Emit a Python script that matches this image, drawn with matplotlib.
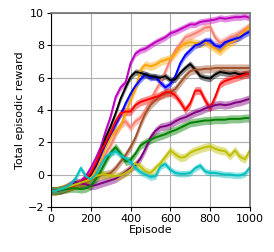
import numpy as np
import matplotlib
matplotlib.use("Agg")
import matplotlib.pyplot as plt

# Episode grid (every 25 episodes)
episodes = np.arange(0, 1001, 25)

# Mean total episodic reward per run
magenta = [-1.0, -1.0, -0.95, -0.85, -0.7, -0.55, -0.4, -0.1, 0.4, 1.0, 1.7, 2.7, 3.6, 4.8, 5.4,
           5.7, 6.9, 7.5, 7.7, 7.8, 8.0, 8.2, 8.35, 8.5, 8.75, 8.85, 9.0, 9.15, 9.3, 9.3, 9.45,
           9.5, 9.55, 9.6, 9.7, 9.65, 9.7, 9.75, 9.75, 9.8, 9.7]
salmon = [-1.0, -1.0, -0.95, -0.8, -0.7, -0.65, -0.55, -0.4, -0.3, 0.1, 0.6, 1.3, 1.8, 2.5, 3.1,
          3.3, 2.9, 3.3, 3.5, 4.0, 4.6, 5.2, 5.7, 6.4, 7.1, 7.7, 8.1, 8.5, 8.6, 8.75, 8.9,
          9.1, 9.15, 8.5, 8.15, 8.3, 8.5, 8.6, 8.8, 9.0, 9.2]
orange = [-1.0, -1.0, -0.9, -0.8, -0.65, -0.6, -0.5, -0.4, -0.2, 0.3, 0.9, 1.7, 2.3, 2.7, 3.0,
          3.8, 4.6, 5.3, 6.5, 6.8, 6.7, 6.8, 7.0, 7.1, 7.2, 7.5, 7.9, 8.1, 8.2, 8.15, 8.1,
          8.2, 8.0, 7.8, 7.6, 7.9, 8.15, 8.3, 8.6, 8.9, 9.2]
blue = [-1.0, -1.0, -0.95, -0.85, -0.7, -0.6, -0.5, -0.3, 0.0, 0.5, 1.2, 1.9, 2.5, 3.1, 3.7,
        4.4, 5.0, 5.5, 5.9, 6.2, 6.0, 6.05, 5.7, 5.4, 5.6, 6.1, 6.9, 7.4, 7.7, 8.0, 8.1,
        8.3, 8.3, 8.0, 7.9, 8.2, 8.3, 8.4, 8.5, 8.7, 8.85]
black = [-1.0, -1.0, -0.95, -0.85, -0.75, -0.6, -0.5, -0.3, 0.0, 0.6, 1.4, 2.3, 3.0, 3.8, 4.7,
         5.4, 6.05, 6.35, 6.3, 6.2, 6.1, 6.05, 6.0, 6.1, 5.85, 5.9, 6.3, 6.6, 6.85, 6.5, 6.1,
         6.0, 5.95, 6.2, 6.35, 6.3, 6.25, 6.3, 6.2, 6.25, 6.25]
brown = [-1.0, -1.0, -0.95, -0.85, -0.75, -0.65, -0.55, -0.45, -0.35, -0.2, -0.05, 0.0, 0.1, 0.4, 0.8,
         1.2, 1.7, 2.3, 3.1, 3.8, 4.3, 4.6, 4.9, 5.0, 5.1, 5.3, 5.7, 6.1, 6.4, 6.5, 6.5,
         6.55, 6.55, 6.6, 6.6, 6.6, 6.6, 6.6, 6.6, 6.6, 6.6]
red = [-1.0, -1.0, -0.95, -0.85, -0.75, -0.6, -0.5, -0.3, 0.1, 0.7, 1.4, 2.0, 2.6, 3.3, 3.8,
       3.9, 3.9, 4.3, 4.5, 4.6, 4.7, 4.8, 4.9, 5.1, 5.1, 4.9, 4.5, 4.0, 4.4, 5.2, 5.2,
       4.6, 4.1, 4.8, 5.6, 5.8, 5.9, 6.0, 6.1, 6.2, 6.25]
purple = [-1.0, -1.0, -0.95, -0.8, -0.6, -0.45, -0.55, -0.6, -0.7, -0.65, -0.55, -0.45, -0.35, -0.25, -0.05,
          0.15, 0.4, 0.6, 1.0, 1.6, 2.3, 2.7, 2.95, 3.0, 3.1, 3.3, 3.45, 3.55, 3.7, 3.85, 3.95,
          4.1, 4.2, 4.3, 4.35, 4.3, 4.35, 4.45, 4.5, 4.6, 4.7]
green = [-1.0, -1.0, -0.95, -0.9, -0.85, -0.85, -0.9, -0.85, -0.7, -0.3, 0.2, 0.8, 1.35, 1.7, 1.3,
         0.8, 0.9, 1.3, 1.8, 2.0, 2.15, 2.3, 2.4, 2.5, 2.65, 2.75, 2.9, 3.05, 3.2, 3.25, 3.3,
         3.35, 3.35, 3.4, 3.4, 3.4, 3.45, 3.45, 3.45, 3.5, 3.5]
olive = [-1.0, -1.0, -0.9, -0.8, -0.7, -0.6, -0.5, -0.4, -0.3, -0.1, 0.0, 0.0, -0.05, -0.1, -0.05,
         0.1, 0.3, 0.7, 0.5, 0.2, 0.1, 0.4, 0.7, 1.1, 1.5, 1.25, 1.05, 1.1, 1.35, 1.5, 1.6,
         1.7, 1.75, 1.6, 1.5, 1.45, 1.15, 1.5, 1.1, 0.95, 1.5]
cyan = [-1.0, -1.0, -0.9, -0.8, -0.6, -0.2, 0.4, -0.1, -0.3, 0.0, 0.6, 1.1, 1.3, 1.45, 1.2,
        1.0, 0.8, 0.4, 0.15, 0.0, -0.15, -0.1, 0.5, 0.65, 0.3, 0.1, 0.05, 0.05, 0.1, 0.4, 0.55,
        0.2, 0.1, 0.1, 0.05, 0.0, 0.0, -0.05, -0.05, 0.05, 0.45]

# Half-width of the shaded band for each run
spread = [0.2, 0.25, 0.25, 0.2, 0.2, 0.25, 0.25, 0.25, 0.25, 0.25, 0.2]

runs = [magenta, salmon, orange, blue, black, brown, red, purple, green, olive, cyan]
colors = ["m", "salmon", "orange", "b", "k", "sienna", "r", "purple", "g", "y", "c"]

plt.rcParams["font.family"] = "DejaVu Sans"
plt.rcParams["font.size"] = 8

fig = plt.figure(figsize=(2.74, 2.52), dpi=100)
ax = fig.add_axes([0.186, 0.179, 0.726, 0.769])

for values, sd, color in zip(runs, spread, colors):
    values = np.array(values)
    ax.fill_between(episodes, values - sd, values + sd, color=color, alpha=0.45, lw=0)
    ax.plot(episodes, values, color=color, lw=1.4)

ax.set_xlim(0, 1000)
ax.set_ylim(-2, 10)
ax.set_xticks([0, 200, 400, 600, 800, 1000])
ax.set_yticks([-2, 0, 2, 4, 6, 8, 10])
ax.set_xlabel("Episode", labelpad=1)
ax.set_ylabel("Total episodic reward", labelpad=2)
ax.grid(True, color="#b0b0b0", lw=0.8)
ax.set_axisbelow(True)
for side in ("top", "right"):
    ax.spines[side].set_color("#707070")
    ax.spines[side].set_linewidth(1.2)
ax.tick_params(length=3, pad=2)

fig.savefig("out.png", dpi=100)
